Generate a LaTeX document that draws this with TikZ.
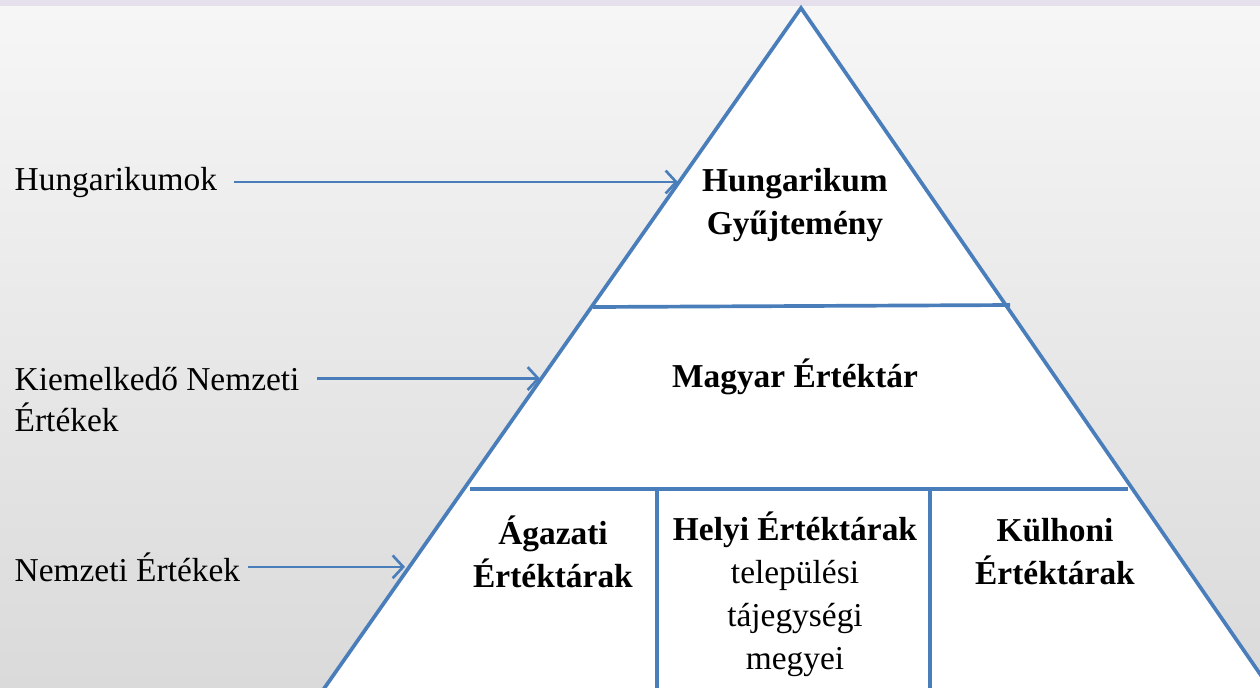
\documentclass[tikz,border=0pt]{standalone}
\usepackage{fontspec}
\setmainfont{Liberation Serif}
\usetikzlibrary{arrows.meta}
\definecolor{pyrblue}{RGB}{74,126,187}
\definecolor{bgtop}{RGB}{246,246,247}
\definecolor{bgbottom}{RGB}{218,218,218}
\definecolor{topband}{RGB}{230,224,236}
\begin{document}
\begin{tikzpicture}[x=0.01cm,y=-0.01cm,
        edge/.style={draw=pyrblue,line width=1.05pt},
        pointer/.style={draw=pyrblue,line width=0.75pt,-{Straight Barb[length=3pt,width=6.5pt]}},
        lbl/.style={anchor=base west,inner sep=0pt,font=\fontsize{9.5}{12}\selectfont},
        tier/.style={align=center,inner sep=0pt,font=\fontsize{9.5}{12.2}\selectfont\bfseries}]
        \useasboundingbox (0,0) rectangle (1260,687);
        \clip (0,0) rectangle (1260,687);
        \shade[top color=bgtop,bottom color=bgbottom] (0,6) rectangle (1260,687);
        \fill[topband] (0,0) rectangle (1260,6);
        \coordinate (apex) at (801,8);
        \coordinate (bl) at (316,700);
        \coordinate (br) at (1278,700);
        \fill[white] (bl) -- (apex) -- (br) -- cycle;
        \draw[edge,line join=miter] (bl) -- (apex) -- (br);
        \draw[edge] (593,307) -- (1010,305);
        \draw[edge] (470,489) -- (1128,489);
        \draw[edge] (657,489) -- (657,700);
        \draw[edge] (930,489) -- (930,700);
        \node[tier] (hgy) at (795,205) {Hungarikum\\Gyűjtemény};
        \node[tier] (met) at (795,377) {Magyar Értéktár};
        \node[tier] (aga) at (553,552) {Ágazati\\Értéktárak};
        \node[tier,font=\fontsize{9.5}{12.2}\selectfont] (hel) at (795,594) {{\bfseries Helyi Értéktárak}\\települési\\tájegységi\\megyei};
        \node[tier] (kul) at (1055,552) {Külhoni\\Értéktárak};
        \node[lbl] (hk) at (14,190) {Hungarikumok};
        \node[lbl] (kn) at (14,390) {Kiemelkedő Nemzeti};
        \node[lbl] (ke) at (14,431) {Értékek};
        \node[lbl] (ne) at (14,581) {Nemzeti Értékek};
        \coordinate (t1) at (678,181);
        \coordinate (t2) at (540,378);
        \coordinate (t3) at (405,570);
        \draw[pointer,shorten <=4.5pt] (hk.east) -- (t1 |- hk.east);
        \draw[pointer,shorten <=4.8pt] (kn.east) -- (t2 |- kn.east);
        \draw[pointer,shorten <=2pt] (ne.east) -- (t3 |- ne.east);
\end{tikzpicture}
\end{document}
